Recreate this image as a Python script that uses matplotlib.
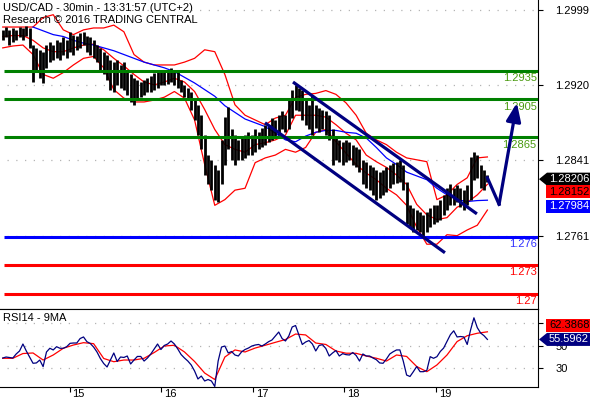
import numpy as np
import matplotlib
matplotlib.use('Agg')
import matplotlib.pyplot as plt
from matplotlib.patches import Polygon
from matplotlib.transforms import IdentityTransform

plt.rcParams['font.family'] = ['Liberation Sans', 'DejaVu Sans']
FS = 8

# ---- price bars (sampled, oldest first) ----
first_bar = 14 + 6.5 / 24
last_bar = 19 + 13.5 / 24
last_close = 1.28206

highs = [1.2978, 1.2981, 1.2978, 1.2980, 1.2978, 1.2981, 1.2980, 1.2982, 1.2980, 1.2962,
         1.2959, 1.2957, 1.2955, 1.2962, 1.2965, 1.2962, 1.2967, 1.2965, 1.2970, 1.2967,
         1.2976, 1.2973, 1.2972, 1.2975, 1.2976, 1.2972, 1.2970, 1.2967, 1.2962, 1.2959,
         1.2955, 1.2952, 1.2946, 1.2944, 1.2946, 1.2941, 1.2944, 1.2936, 1.2931, 1.2927,
         1.2925, 1.2923, 1.2925, 1.2927, 1.2929, 1.2932, 1.2934, 1.2936, 1.2934, 1.2936,
         1.2938, 1.2936, 1.2934, 1.2925, 1.2920, 1.2917, 1.2913, 1.2904, 1.2899, 1.2888,
         1.2867, 1.2846, 1.2841, 1.2836, 1.2830, 1.2862, 1.2886, 1.2897, 1.2873, 1.2867,
         1.2862, 1.2864, 1.2867, 1.2870, 1.2867, 1.2873, 1.2870, 1.2875, 1.2878, 1.2878,
         1.2885, 1.2883, 1.2888, 1.2892, 1.2888, 1.2904, 1.2915, 1.2920, 1.2917, 1.2915,
         1.2904, 1.2899, 1.2909, 1.2899, 1.2896, 1.2894, 1.2892, 1.2888, 1.2873, 1.2864,
         1.2862, 1.2860, 1.2862, 1.2860, 1.2857, 1.2854, 1.2852, 1.2841, 1.2839, 1.2836,
         1.2833, 1.2830, 1.2828, 1.2830, 1.2833, 1.2836, 1.2838, 1.2839, 1.2841, 1.2836,
         1.2818, 1.2793, 1.2790, 1.2788, 1.2786, 1.2783, 1.2786, 1.2790, 1.2793, 1.2793,
         1.2799, 1.2804, 1.2811, 1.2815, 1.2811, 1.2814, 1.2811, 1.2809, 1.2814, 1.2844,
         1.2849, 1.2846, 1.2836, 1.2830, 1.2825]
lows = [1.2967, 1.2970, 1.2962, 1.2965, 1.2967, 1.2970, 1.2967, 1.2972, 1.2959, 1.2923,
        1.2936, 1.2927, 1.2922, 1.2938, 1.2944, 1.2946, 1.2948, 1.2946, 1.2952, 1.2948,
        1.2955, 1.2952, 1.2957, 1.2959, 1.2962, 1.2955, 1.2952, 1.2948, 1.2944, 1.2936,
        1.2931, 1.2925, 1.2915, 1.2913, 1.2920, 1.2917, 1.2915, 1.2909, 1.2902, 1.2899,
        1.2904, 1.2907, 1.2909, 1.2912, 1.2913, 1.2915, 1.2917, 1.2920, 1.2920, 1.2921,
        1.2923, 1.2920, 1.2917, 1.2912, 1.2907, 1.2904, 1.2894, 1.2883, 1.2867, 1.2852,
        1.2825, 1.2815, 1.2809, 1.2799, 1.2796, 1.2815, 1.2836, 1.2852, 1.2841, 1.2836,
        1.2841, 1.2841, 1.2843, 1.2846, 1.2846, 1.2849, 1.2852, 1.2854, 1.2857, 1.2860,
        1.2862, 1.2864, 1.2867, 1.2873, 1.2870, 1.2873, 1.2885, 1.2894, 1.2892, 1.2883,
        1.2878, 1.2873, 1.2867, 1.2875, 1.2870, 1.2873, 1.2867, 1.2862, 1.2836, 1.2841,
        1.2839, 1.2836, 1.2839, 1.2841, 1.2836, 1.2833, 1.2828, 1.2815, 1.2811, 1.2809,
        1.2804, 1.2799, 1.2801, 1.2804, 1.2807, 1.2811, 1.2815, 1.2817, 1.2818, 1.2809,
        1.2773, 1.2770, 1.2765, 1.2767, 1.2765, 1.2761, 1.2765, 1.2770, 1.2773, 1.2775,
        1.2778, 1.2783, 1.2788, 1.2793, 1.2793, 1.2796, 1.2791, 1.2788, 1.2793, 1.2799,
        1.2820, 1.2822, 1.2811, 1.2809, 1.2818]

# ---- bands, read every third bar ----
band_upper = [1.2981, 1.2981, 1.2981, 1.2981, 1.2991, 1.2994, 1.2978, 1.2973, 1.2978, 1.2980,
              1.2980, 1.2983, 1.2976, 1.2952, 1.2944, 1.2941, 1.2941, 1.2941, 1.2944, 1.2948,
              1.2957, 1.2955, 1.2931, 1.2899, 1.2888, 1.2883, 1.2878, 1.2885, 1.2888, 1.2907,
              1.2910, 1.2911, 1.2914, 1.2910, 1.2901, 1.2888, 1.2869, 1.2862, 1.2857, 1.2849,
              1.2843, 1.2841, 1.2839, 1.2799, 1.2804, 1.2815, 1.2822, 1.2843, 1.2844]
band_mid = [1.2971, 1.2972, 1.2972, 1.2967, 1.2959, 1.2955, 1.2955, 1.2959, 1.2962, 1.2963,
            1.2957, 1.2948, 1.2940, 1.2931, 1.2923, 1.2920, 1.2923, 1.2927, 1.2923, 1.2913,
            1.2894, 1.2873, 1.2857, 1.2852, 1.2849, 1.2857, 1.2859, 1.2862, 1.2867, 1.2888,
            1.2888, 1.2888, 1.2886, 1.2878, 1.2869, 1.2862, 1.2846, 1.2839, 1.2833, 1.2825,
            1.2815, 1.2794, 1.2783, 1.2778, 1.2780, 1.2791, 1.2796, 1.2804, 1.28152]
band_lower = [1.2959, 1.2961, 1.2962, 1.2952, 1.2931, 1.2927, 1.2933, 1.2941, 1.2948, 1.2950,
              1.2938, 1.2915, 1.2906, 1.2902, 1.2902, 1.2904, 1.2907, 1.2913, 1.2906, 1.2883,
              1.2836, 1.2793, 1.2799, 1.2809, 1.2811, 1.2838, 1.2843, 1.2846, 1.2852, 1.2849,
              1.2854, 1.2870, 1.2873, 1.2860, 1.2848, 1.2836, 1.2827, 1.2820, 1.2811, 1.2804,
              1.2793, 1.2770, 1.2752, 1.2752, 1.2762, 1.2761, 1.2767, 1.2772, 1.2788]
# slow average, starts at the tenth bar
slow_ma = [1.2981, 1.2977, 1.2973, 1.2971, 1.2967, 1.2964, 1.2962, 1.2959, 1.2956, 1.2952,
           1.2948, 1.2944, 1.2941, 1.2938, 1.2934, 1.2928, 1.2922, 1.2915, 1.2908, 1.2898,
           1.2891, 1.2884, 1.2880, 1.2876, 1.2869, 1.2862, 1.2860, 1.2866, 1.2870, 1.2872,
           1.2872, 1.2870, 1.2869, 1.2864, 1.2854, 1.2843, 1.2836, 1.2828, 1.2824, 1.2820,
           1.2811, 1.2804, 1.2799, 1.2797, 1.2798, 1.27984]

# ---- RSI14 and its 9MA ----
rsi = [39.0, 39.9, 39.5, 39.0, 42.6, 45.3, 51.5, 45.3, 39.9, 34.3,
       34.6, 37.2, 31.3, 44.4, 47.7, 46.2, 49.1, 47.7, 47.7, 49.1,
       52.1, 52.4, 52.4, 56.4, 57.8, 53.6, 52.0, 48.8, 44.4, 38.6,
       34.1, 31.0, 37.2, 43.5, 35.9, 39.9, 39.5, 40.8, 33.7, 37.2,
       40.4, 40.4, 36.3, 39.0, 42.6, 47.1, 51.5, 46.6, 50.2, 51.5,
       54.2, 51.5, 47.1, 42.1, 39.0, 36.3, 32.8, 27.4, 20.3, 22.9,
       18.5, 19.8, 18.5, 13.6, 36.3, 48.8, 49.7, 43.5, 44.8, 41.7,
       40.8, 44.6, 46.6, 47.9, 49.7, 50.6, 51.1, 49.7, 51.5, 53.6,
       55.1, 58.7, 62.2, 56.4, 54.2, 58.7, 66.7, 68.0, 59.6, 51.1,
       53.3, 54.6, 51.5, 45.3, 50.2, 50.9, 47.5, 40.8, 43.5, 45.7,
       40.8, 42.9, 42.0, 41.7, 43.9, 41.3, 36.3, 42.6, 40.8, 40.8,
       39.0, 37.5, 34.6, 34.3, 38.1, 42.6, 44.6, 46.2, 46.2, 36.3,
       23.8, 22.5, 26.8, 31.4, 26.8, 26.8, 27.9, 40.2, 38.75, 40.2,
       44.8, 47.9, 53.75, 59.8, 63.3, 57.8, 58.2, 57.8, 51.1, 64.0,
       74.9, 66.1, 61.3, 58.9, 55.5962]
rsi_ma = [38.75, 38.75, 43.0, 43.5, 37.2, 41.7, 47.7, 50.6, 52.7, 51.8,
          38.6, 35.7, 37.2, 37.2, 38.75, 43.9, 49.7, 50.4, 44.4, 35.9,
          25.6, 19.8, 39.9, 46.2, 44.4, 47.9, 50.4, 53.0, 55.5, 60.4,
          59.6, 52.4, 51.1, 45.3, 43.3, 43.2, 40.8, 38.8, 36.3, 41.7,
          40.4, 31.4, 26.8, 32.8, 41.7, 53.7, 58.9, 61.1, 62.3868]

# ---- analyst drawings ----
resist_levels = [1.2935, 1.2905, 1.2865]
resist_labels = ['1.2935', '1.2905', '1.2865']
pivot_level = 1.2760
pivot_label = '1.276'
support_levels = [1.2730, 1.2700]
support_labels = ['1.273', '1.27']
channel_top_t = [17.440, 19.448]
channel_top_p = [1.2923, 1.2784]
channel_bot_t = [17.134, 19.099]
channel_bot_p = [1.2880, 1.2743]
forecast_t = [19.5625, 19.690, 19.885]
forecast_p = [1.2822, 1.2794, 1.2901]

price_ticks = [1.2999, 1.2920, 1.2841, 1.2761]
rsi_ticks = [30, 50, 70]
rsi_tick_labels = ['30', '50', '']   # 70 sits under the MA flag
days = [15, 16, 17, 18, 19]

NAVY = '#000080'
GREEN = '#008000'
GREEN_TXT = '#4a9a10'

t = np.linspace(first_bar, last_bar, len(highs))
tb = t[::3]
xmin, xmax = 14.241, 20.115

W, H = 590.0, 400.0
fig = plt.figure(figsize=(W / 100, H / 100), dpi=100)
ax = fig.add_axes([0, 1 - 308.5 / H, 538 / W, 308.5 / H])
rs = fig.add_axes([0, 1 - 387.3 / H, 538 / W, (387.3 - 308.5) / H])

# main panel
ax.hlines(price_ticks, xmin + 0.08, xmax, colors='#b4b4b4', linestyles=(0, (1, 6)), lw=0.9, zorder=1)
ax.plot(tb, band_upper, color='red', lw=0.9, zorder=2)
ax.plot(tb, band_mid, color='red', lw=0.9, zorder=2)
ax.plot(tb, band_lower, color='red', lw=0.9, zorder=2)
ax.plot(tb[3:], slow_ma, color='blue', lw=0.9, zorder=2)
ax.vlines(t, lows, highs, colors='black', lw=2.0, zorder=3)

x_lev = xmin + 4 / 91.6
ax.hlines(resist_levels, x_lev, xmax, colors=GREEN, lw=2.2, zorder=4)
ax.hlines([pivot_level], x_lev, xmax, colors='blue', lw=2.2, zorder=4)
ax.hlines(support_levels, x_lev, xmax, colors='red', lw=2.2, zorder=4)
for lv, lb in zip(resist_levels, resist_labels):
    ax.annotate(lb, xy=(1, lv), xycoords=('axes fraction', 'data'), xytext=(-1, -5.6),
                textcoords='offset points', ha='right', va='center', fontsize=FS, color=GREEN_TXT)
ax.annotate(pivot_label, xy=(1, pivot_level), xycoords=('axes fraction', 'data'), xytext=(-1, -5.0),
            textcoords='offset points', ha='right', va='center', fontsize=FS, color='#3030ff')
for lv, lb in zip(support_levels, support_labels):
    ax.annotate(lb, xy=(1, lv), xycoords=('axes fraction', 'data'), xytext=(-1, -5.2),
                textcoords='offset points', ha='right', va='center', fontsize=FS, color='red')

ax.plot(channel_top_t, channel_top_p, color=NAVY, lw=2.3, solid_capstyle='butt', zorder=5)
ax.plot(channel_bot_t, channel_bot_p, color=NAVY, lw=2.3, solid_capstyle='butt', zorder=5)
ax.plot(forecast_t[:2], forecast_p[:2], color=NAVY, lw=2.3, zorder=6)
ax.annotate('', xy=(forecast_t[2], forecast_p[2]), xytext=(forecast_t[1], forecast_p[1]),
            arrowprops=dict(arrowstyle='-|>,head_length=1.0,head_width=0.4', color=NAVY,
                            lw=2.3, mutation_scale=11, shrinkA=0, shrinkB=0), zorder=6)

ax.set_xlim(xmin, xmax)
ax.set_ylim(1.26842, 1.30095)
ax.yaxis.tick_right()
ax.set_yticks(price_ticks)
ax.set_yticklabels(['%.4f' % v for v in price_ticks])
ax.tick_params(axis='y', direction='out', length=3.5, width=0.8, pad=9, labelsize=FS)
ax.tick_params(axis='x', bottom=False, labelbottom=False)
for s in ['left', 'top']:
    ax.spines[s].set_visible(False)

fig.text(3 / W, 1 - 11 / H, 'USD/CAD - 30min - 13:31:57 (UTC+2)', fontsize=FS, va='baseline', ha='left')
fig.text(3 / W, 1 - 23.3 / H, 'Research \u00a9 2016 TRADING CENTRAL', fontsize=FS, va='baseline', ha='left')

# RSI panel
rs.hlines(rsi_ticks, xmin + 0.08, xmax, colors='#b4b4b4', linestyles=(0, (1, 6)), lw=0.9, zorder=1)
rs.plot(tb, rsi_ma, color='red', lw=0.9, zorder=2)
rs.plot(t, rsi, color=NAVY, lw=0.9, zorder=3)
rs.set_xlim(xmin, xmax)
rs.set_ylim(12.86, 83.2)
rs.yaxis.tick_right()
rs.set_yticks(rsi_ticks)
rs.set_yticklabels(rsi_tick_labels)
rs.tick_params(axis='y', direction='out', length=3.5, width=0.8, pad=9, labelsize=FS)
rs.set_xticks(days)
rs.set_xticklabels([''] * len(days))
rs.tick_params(axis='x', direction='out', length=3.5, width=0.8)
rs.spines['left'].set_visible(False)
for d in days:
    rs.annotate(str(d), xy=(d, 0), xycoords=('data', 'axes fraction'), xytext=(2.2, -1.2),
                textcoords='offset points', ha='left', va='top', fontsize=FS)
rs.text(0.005, 0.945, 'RSI14 - 9MA', transform=rs.transAxes, ha='left', va='top', fontsize=FS)


def tag(axis, value, label, face, color, shift=0.0, pointed=False):
    # last-value flag drawn in pixels next to the right axis
    x0 = axis.transAxes.transform((1, 0))[0]
    y0 = axis.transData.transform((xmin, value))[1] + shift
    h = 6.5
    if pointed:
        pts = [(x0 + 1, y0), (x0 + 9, y0 + h), (x0 + 52, y0 + h), (x0 + 52, y0 - h), (x0 + 9, y0 - h)]
    else:
        pts = [(x0 + 8, y0 + h), (x0 + 52, y0 + h), (x0 + 52, y0 - h), (x0 + 8, y0 - h)]
    fig.add_artist(Polygon(pts, closed=True, fc=face, ec='none', transform=IdentityTransform(), zorder=10))
    fig.text(x0 + 11, y0, label, transform=IdentityTransform(), color=color, fontsize=FS,
             ha='left', va='center', zorder=11)


tag(ax, last_close, '%.5f' % last_close, 'black', 'white', pointed=True)
tag(ax, band_mid[-1], '%.5f' % band_mid[-1], 'red', 'black', shift=-7.7)
tag(ax, slow_ma[-1], '%.5f' % slow_ma[-1], 'blue', 'white', shift=-6.2)
tag(rs, rsi_ma[-1], '%.4f' % rsi_ma[-1], 'red', 'black', shift=6.8)
tag(rs, rsi[-1], '%.4f' % rsi[-1], NAVY, 'white', pointed=True)

fig.savefig('out.png', dpi=100)
